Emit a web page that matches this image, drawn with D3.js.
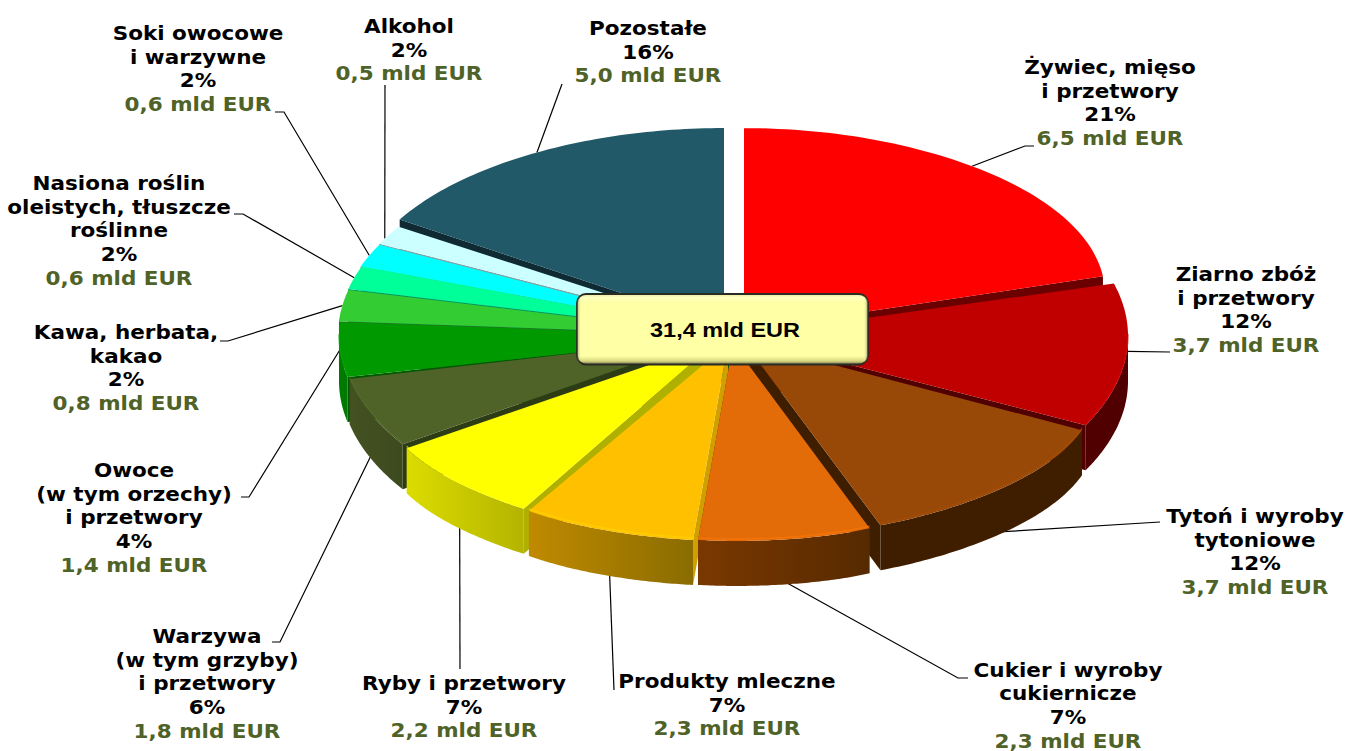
<!DOCTYPE html>
<html>
<head>
<meta charset="utf-8">
<script src="https://cdnjs.cloudflare.com/ajax/libs/d3/7.8.5/d3.min.js"></script>
<style>
  html, body { margin: 0; background: #fff; }
  svg { display: block; }
</style>
</head>
<body>
<div id="chart"></div>
<script>
// values
const categories = [
  ["Żywiec, mięso", "i przetwory"],
  ["Ziarno zbóż", "i przetwory"],
  ["Tytoń i wyroby", "tytoniowe"],
  ["Cukier i wyroby", "cukiernicze"],
  ["Produkty mleczne"],
  ["Ryby i przetwory"],
  ["Warzywa", "(w tym grzyby)", "i przetwory"],
  ["Owoce", "(w tym orzechy)", "i przetwory"],
  ["Kawa, herbata,", "kakao"],
  ["Nasiona roślin", "oleistych, tłuszcze", "roślinne"],
  ["Soki owocowe", "i warzywne"],
  ["Alkohol"],
  ["Pozostałe"],
];
const values = [6.5, 3.7, 3.7, 2.3, 2.3, 2.2, 1.8, 1.4, 0.8, 0.6, 0.6, 0.5, 5.0];
const shares = [21, 12, 12, 7, 7, 7, 6, 4, 2, 2, 2, 2, 16];
const totalLabel = "31,4 mld EUR";

// colours per slice
const topColors = ["#ff0000", "#c00000", "#984807", "#e36c09", "#ffc000", "#ffff00", "#4f6228",
  "#009900", "#33cc33", "#00ff99", "#00ffff", "#ccffff", "#215968"];
const faceColors = ["#6a0000", "#500000", "#3f1e00", "#5c2c00", "#d0a000", "#b0b000", "#2e3c15",
  "#005a00", "#1f7a1f", "#009a5c", "#4a8a8a", "#8aa0a0", "#0f2a33"];
const wallLeft = ["#800000", "#500000", "#3f1e00", "#7a3800", "#c08a00", "#dcdc00", "#445222",
  "#007a00", "#1f7a1f", "#009a5c", "#009a9a", "#8aa0a0", "#0f2a33"];
const wallRight = ["#800000", "#500000", "#3f1e00", "#562a00", "#8a6c00", "#b4b400", "#3c4a1e",
  "#007a00", "#1f7a1f", "#009a5c", "#009a9a", "#8aa0a0", "#0f2a33"];

// layout of the exploded pie: rim centre, apex of the wedge, small perspective fixes
const hubX = [744, 738, 743, 737, 732, 731, 731, 729, 728, 728, 727, 727, 724];
const hubY = [330, 336, 341, 344, 344, 342, 338, 336, 335, 334, 334, 333, 327];
const apexX = [744, 738, 743, 733, 728, 716, 708, 729, 728, 728, 727, 727, 724];
const trimStart = [0, 0, 0.025, 0.035, 0, 0, 0, 0, 0, 0, 0, 0, 0.012];
const trimEnd = [0.045, 0, 0, 0, 0.02, 0.012, 0, 0, 0, 0, 0, 0, 0];
const ryScale = [1.025, 1, 1, 1, 1, 1, 1, 1, 1, 1, 1, 1, 1.01];
const rx = 390;
const tilt = 0.505;
const depth = 45;

// label centre x, first line centre y
const labelX = [1110, 1246, 1255, 1068, 727, 464, 207, 134, 126, 119, 198, 409, 648];
const labelY = [67, 274, 516, 669.5, 681, 683, 636, 470, 332, 183, 33, 26, 28];
const lineStep = 23.6;
// where along the slice the leader starts, and its bends from the pie outwards
const leaderAt = [0.48, 0.47, 0.5, 0.5, 0.476, 0.475, 0.5, 0.5, 0.5, 0.5, 0.5, 0.3, 0.5];
const leaderBends = [
  [[1025, 146], [1034, 146]],
  [[1170, 352]],
  [[1160, 522]],
  [[958, 678], [968, 678]],
  [[614, 690]],
  [[460, 669]],
  [[280, 642], [272, 642]],
  [[249, 497], [241, 497]],
  [[228, 341], [220, 341]],
  [[243, 214], [234, 214]],
  [[284, 112], [275, 112]],
  [[385, 85]],
  [[562, 84]],
];

const width = 1348;
const height = 751;

const svg = d3.select("#chart").append("svg")
  .attr("width", width)
  .attr("height", height);

const defs = svg.append("defs");

const pie = d3.pie().sort(null).value((d) => d);
const arcs = pie(values).map((d, i) => ({ ...d, i, mid: (d.startAngle + d.endAngle) / 2 }));

function rim(d, a) {
  const t = (a - d.startAngle) / (d.endAngle - d.startAngle);
  const f = 1 - trimStart[d.i] * Math.max(0, 1 - 2 * t) ** 2 - trimEnd[d.i] * Math.max(0, 2 * t - 1) ** 2;
  return [
    hubX[d.i] + rx * Math.sin(a) * f,
    hubY[d.i] - rx * tilt * ryScale[d.i] * Math.cos(a),
  ];
}
const rimPoints = (d, a0, a1) => d3.range(0, 61).map((k) => rim(d, a0 + (a1 - a0) * k / 60));
const line = d3.line();

// leaders go under the pie
svg.append("g").selectAll("path")
  .data(arcs)
  .join("path")
  .attr("fill", "none")
  .attr("stroke", "#000")
  .attr("stroke-width", 1.2)
  .attr("d", (d) => {
    const front = d.mid > Math.PI * 0.6 && d.mid < Math.PI * 1.45;
    const p = rim(d, d.startAngle + (d.endAngle - d.startAngle) * leaderAt[d.i]);
    return line([[p[0], p[1] + (front ? depth - 1 : 0)], ...leaderBends[d.i]]);
  });

// painter's order: back slices first
const order = arcs.slice().sort((a, b) => Math.abs(b.mid - Math.PI) - Math.abs(a.mid - Math.PI));

const slices = svg.append("g").selectAll("g")
  .data(order)
  .join("g");

slices.each(function (d) {
  const g = d3.select(this);
  const apex = [apexX[d.i], hubY[d.i]];

  // cut face that looks towards the viewer
  const c = rim(d, d.mid < Math.PI ? d.endAngle : d.startAngle);
  g.append("path")
    .attr("fill", faceColors[d.i])
    .attr("d", line([apex, c, [c[0], c[1] + depth], [apex[0], apex[1] + depth]]) + "Z");

  // outer wall, front half only
  const a0 = Math.max(d.startAngle, Math.PI / 2);
  const a1 = Math.min(d.endAngle, Math.PI * 1.5);
  if (a1 > a0) {
    const pts = rimPoints(d, a0, a1);
    const xs = d3.extent(pts, (p) => p[0]);
    const grad = defs.append("linearGradient")
      .attr("id", "wall" + d.i)
      .attr("gradientUnits", "userSpaceOnUse")
      .attr("x1", xs[0]).attr("x2", xs[1]).attr("y1", 0).attr("y2", 0);
    grad.append("stop").attr("offset", 0).attr("stop-color", wallLeft[d.i]);
    grad.append("stop").attr("offset", 1).attr("stop-color", wallRight[d.i]);
    const outline = pts.concat(pts.slice().reverse().map((p) => [p[0], p[1] + depth]));
    g.append("path")
      .attr("fill", `url(#wall${d.i})`)
      .attr("d", line(outline) + "Z");
  }

  // top face
  g.append("path")
    .attr("fill", topColors[d.i])
    .attr("d", line([apex, ...rimPoints(d, d.startAngle, d.endAngle)]) + "Z");

  // small bevel along the front rim
  if (a1 > a0) {
    g.append("path")
      .attr("fill", "none")
      .attr("stroke", d3.color(topColors[d.i]).brighter(0.3))
      .attr("stroke-opacity", 0.6)
      .attr("stroke-width", 1.5)
      .attr("d", line(rimPoints(d, a0, a1).map((p) => [p[0], p[1] - 2])));
  }
});

// labels, a bit wider than the plain font as in the picture
const labels = svg.append("g")
  .attr("font-family", "'DejaVu Sans', Verdana, sans-serif")
  .attr("font-weight", "bold")
  .attr("font-size", "20px")
  .attr("text-anchor", "middle");

function addLine(x, y, str, color) {
  labels.append("text")
    .attr("transform", `translate(${x},${y}) scale(1.075,1)`)
    .attr("dy", "0.36em")
    .attr("fill", color)
    .text(str);
}

arcs.forEach((d) => {
  const lines = categories[d.i].concat(shares[d.i] + "%");
  lines.forEach((t, k) => addLine(labelX[d.i], labelY[d.i] + k * lineStep, t, "#000"));
  addLine(labelX[d.i], labelY[d.i] + lines.length * lineStep,
    d3.format(".1f")(values[d.i]).replace(".", ",") + " mld EUR", "#4f6228");
});

// centre box with the total
const boxGrad = defs.append("linearGradient")
  .attr("id", "boxGrad")
  .attr("x1", 0).attr("x2", 0).attr("y1", 0).attr("y2", 1);
[[0, "#e8e8a0"], [0.05, "#ffffc0"], [0.12, "#ffffa6"], [0.88, "#ffffa6"], [0.95, "#d8d880"], [1, "#707050"]]
  .forEach(([o, c]) => boxGrad.append("stop").attr("offset", o).attr("stop-color", c));
const sideGrad = defs.append("linearGradient")
  .attr("id", "sideGrad")
  .attr("x1", 0).attr("x2", 1).attr("y1", 0).attr("y2", 0);
[[0, "#60604a", 0.6], [0.015, "#ffffc0", 0], [0.985, "#ffffc0", 0], [1, "#60604a", 0.7]]
  .forEach(([o, c, a]) => sideGrad.append("stop").attr("offset", o).attr("stop-color", c).attr("stop-opacity", a));

const box = svg.append("g").attr("transform", "translate(577,294)");
box.append("rect")
  .attr("width", 291)
  .attr("height", 70.5)
  .attr("rx", 9)
  .attr("fill", "url(#boxGrad)")
  .attr("stroke", "#2a2b22")
  .attr("stroke-width", 1.8);
box.append("rect")
  .attr("width", 291)
  .attr("height", 70.5)
  .attr("rx", 9)
  .attr("fill", "url(#sideGrad)");
box.append("text")
  .attr("transform", "translate(148,36) scale(1.145,1)")
  .attr("dy", "0.36em")
  .attr("text-anchor", "middle")
  .attr("font-family", "'Liberation Sans', Arial, sans-serif")
  .attr("font-weight", "bold")
  .attr("font-size", "20.5px")
  .text(totalLabel);
</script>
</body>
</html>
